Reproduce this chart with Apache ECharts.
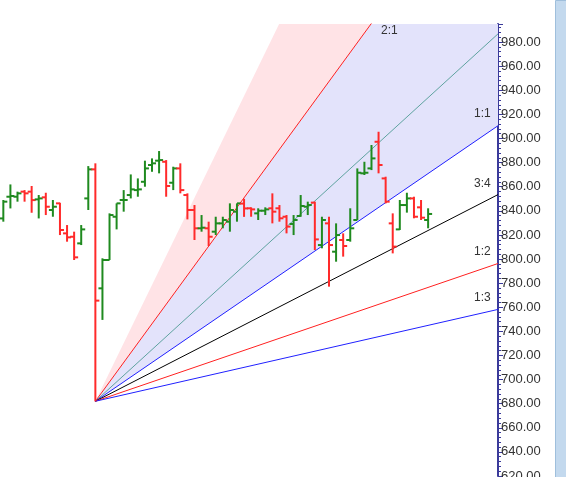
<!DOCTYPE html>
<html><head><meta charset="utf-8">
<script src="https://cdn.jsdelivr.net/npm/echarts@6/dist/echarts.min.js"></script>
<style>html,body{margin:0;padding:0;background:#fff}#c{width:566px;height:477px}</style>
</head><body><div id="c"></div>
<script>
const opens  = [833.7,851.7,851.7,855.9,855.9,849.5,851.2,840.7,846.2,821.3,818.5,813.0,850.3,874.4,775.7,799.2,835.1,849.0,853.1,857.2,864.1,878.0,881.6,880.7,863.3,875.2,853.1,840.7,825.5,825.5,822.7,829.6,831.0,839.3,846.0,842.1,837.9,840.1,842.1,842.1,835.1,829.1,835.7,843.4,846.8,811.6,829.6,806.1,815.8,815.8,832.4,871.1,875.2,897.3,866.9,829.6,824.6,844.8,850.3,842.9,832.4];
const highs  = [849.0,861.9,855.9,857.2,860.6,853.1,855.0,849.0,846.7,828.2,822.7,828.2,877.1,879.4,800.6,837.9,846.2,857.2,870.2,866.9,881.6,883.5,889.6,882.1,876.6,879.4,854.5,844.8,836.5,831.0,835.1,835.1,846.2,846.2,850.0,842.9,842.1,842.9,854.5,844.8,836.5,836.5,853.1,847.6,847.6,835.1,835.1,829.6,821.3,842.1,875.2,880.7,894.6,905.6,868.3,837.9,849.0,855.0,851.7,849.0,842.1];
const lows   = [831.0,842.0,847.6,847.6,838.4,833.7,836.5,835.1,819.9,814.4,799.2,811.6,840.7,682.0,749.5,799.2,824.6,839.3,850.3,851.7,860.0,872.4,871.1,851.7,857.2,854.5,832.9,815.8,822.7,810.8,819.9,825.5,822.7,831.0,835.0,835.1,832.4,836.5,829.6,831.0,821.3,819.9,835.1,836.5,807.5,808.9,777.1,797.8,802.0,814.4,832.4,869.7,873.8,871.1,846.2,804.7,824.1,838.5,833.8,832.4,825.5];
const closes = [847.6,852.3,854.5,854.5,848.9,850.3,843.4,843.4,824.1,818.0,801.4,824.6,874.4,765.5,799.2,836.5,846.2,849.0,857.8,857.8,875.2,879.4,882.1,860.6,875.2,857.2,840.7,825.5,826.0,818.5,829.6,832.4,840.7,846.2,842.0,841.2,840.1,841.2,839.3,833.8,826.9,832.4,844.0,844.8,816.3,832.4,811.6,819.9,810.8,825.5,871.6,871.6,883.5,878.0,847.6,810.3,844.8,850.3,835.1,834.3,837.4];
const fanOriginIndex = 13, fanOriginPrice = 682;
const unitPerBar = 4.02;
const fanNames  = ['2:1','4:3','1:1','3:4','1:2','1:3'];
const fanRatios = [2, 4/3, 1, 0.75, 0.5, 1/3];
const fanColors = ['#ff2020','#5fa3a0','#2020ff','#000000','#ff2020','#2020ff'];
const yTicks = {min:620, max:995, interval:20};

const X_MIN = -0.47, X_MAX = 69.87;
const ohlc = opens.map((o,i)=>[i,o,highs[i],lows[i],closes[i]]);
const fanEnd = r => fanOriginPrice + unitPerBar*r*(X_MAX-fanOriginIndex);
const series = [];
series.push({type:'custom', silent:true, z:1, clip:true, data:[0],
  renderItem:(p,api)=>{
    const o = api.coord([fanOriginIndex,fanOriginPrice]);
    const a3 = api.coord([X_MAX, fanEnd(3)]), a2 = api.coord([X_MAX, fanEnd(2)]), a1 = api.coord([X_MAX, fanEnd(1)]);
    return {type:'group', children:[
      {type:'polygon', shape:{points:[o,a3,a2]}, style:{fill:'#ffe3e6'}},
      {type:'polygon', shape:{points:[o,a2,a1]}, style:{fill:'#e3e3fb'}}
    ]};
  }});
fanRatios.forEach((r,k)=>{
  series.push({type:'line', z:2, symbol:'none', silent:true, clip:true,
    data:[[fanOriginIndex,fanOriginPrice],[X_MAX,fanEnd(r)]],
    lineStyle:{color:fanColors[k], width:1}});
});
series.push({type:'custom', z:5, clip:true, data:ohlc, encode:{x:0,y:[1,2,3,4]},
  renderItem:(p,api)=>{
    const i=api.value(0), o=api.value(1), h=api.value(2), l=api.value(3), c=api.value(4);
    const col = c>=o ? '#1f8a1f' : '#ff2a2a';
    const ph=api.coord([i,h]), pl=api.coord([i,l]), po=api.coord([i,o]), pc=api.coord([i,c]);
    const st={stroke:col, lineWidth:2};
    return {type:'group', children:[
      {type:'line', shape:{x1:ph[0],y1:ph[1],x2:pl[0],y2:pl[1]}, style:st},
      {type:'line', shape:{x1:po[0]-4,y1:po[1],x2:po[0],y2:po[1]}, style:st},
      {type:'line', shape:{x1:pc[0],y1:pc[1],x2:pc[0]+4,y2:pc[1]}, style:st}
    ]};
  }});

const chart = echarts.init(document.getElementById('c'));
const lbl = (t,x,y)=>({type:'text', z:100, left:x, top:y, style:{text:t, fill:'#333', font:'12px Arial, Liberation Sans'}});
chart.setOption({
  animation:false,
  grid:{left:0, right:68, top:24, bottom:1, outerBoundsMode:'none', containLabel:false},
  xAxis:{type:'value', min:X_MIN, max:X_MAX, show:false},
  yAxis:{type:'value', position:'right', min:yTicks.min, max:yTicks.max, interval:yTicks.interval,
    axisLine:{show:true, onZero:false, lineStyle:{color:'#3a3a9a', width:2}},
    axisTick:{show:true, length:5, lineStyle:{color:'#3a3a9a'}},
    minorTick:{show:true, splitNumber:5, length:3, lineStyle:{color:'#3a3a9a'}},
    splitLine:{show:false},
    axisLabel:{color:'#333', fontSize:13, fontFamily:'Arial, Liberation Sans', margin:3, showMaxLabel:false,
      formatter:v=>v.toFixed(2)}},
  series,
  graphic:[
    {type:'rect', z:100, left:555, top:0, shape:{width:11,height:477}, style:{fill:'#c3d9ee', stroke:'#9fbfdc'}},
    lbl(fanNames[0],381,25), lbl(fanNames[2],474,108), lbl(fanNames[3],474,178),
    lbl(fanNames[4],474,246), lbl(fanNames[5],474,292)
  ]
});
</script></body></html>
